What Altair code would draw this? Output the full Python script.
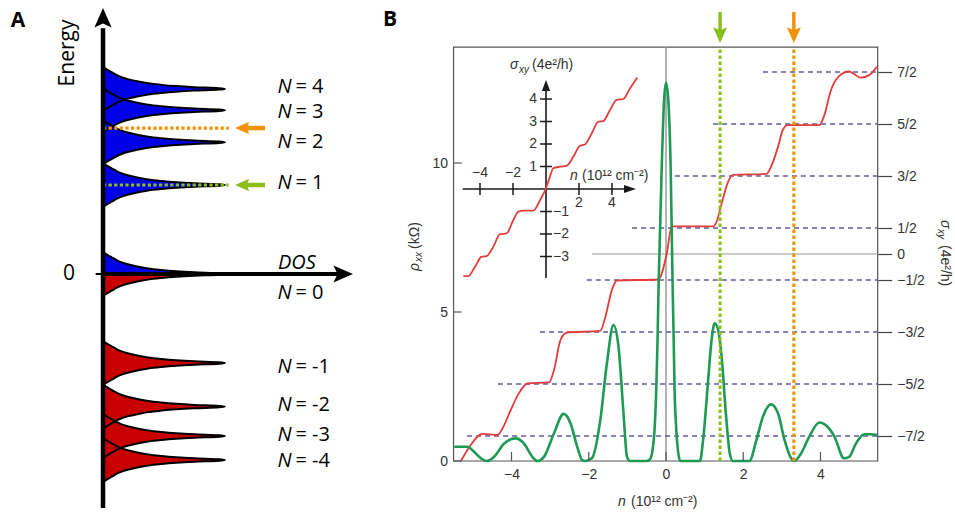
import altair as alt
import pandas as pd

# ---------------- Panel A: schematic Landau-level DOS ----------------
level_N = [4, 3, 2, 1, 0, -1, -2, -3, -4]
level_E = [2.08, 1.84, 1.48, 1.00, 0.00, -1.00, -1.49, -1.82, -2.09]
label_E = [2.10, 1.82, 1.48, 1.02, -0.21, -1.045, -1.47, -1.81, -2.10]
profile_dE = [0, 0.008, 0.019, 0.031, 0.045, 0.062, 0.082, 0.107, 0.131, 0.157, 0.188, 0.208, 0.225, 0.238, 0.247]
profile_dos = [1.0, 0.95, 0.75, 0.60, 0.48, 0.37, 0.29, 0.21, 0.153, 0.11, 0.071, 0.045, 0.025, 0.01, 0.0]
axis_return_D = [0.6, 0.3, 0.0]
fermi_E_orange = 1.64
fermi_E_green = 1.00
fermi_D_end = 1.03
energy_axis_E = [-2.63, 2.76]
energy_head_E = 2.865
dos_axis_D = [0.0, 1.94]
dos_head_D = 1.959
label_D = 1.43
arrowA_shaft_D = [1.164, 1.328]
arrowA_head_D = 1.148

# ---------------- Panel B: rho_xx and sigma_xy vs n ----------------
green_n = [-5.48, -5.14, -4.97, -4.79, -4.64, -4.45, -4.19, -3.89, -3.68, -3.46, -3.33, -3.16, -2.9, -2.65,
           -2.47, -2.3, -2.17, -2.09, -1.92, -1.7, -1.53, -1.36, -1.23, -1.1, -1.01, -0.93, -0.5, -0.42,
           -0.35, -0.29, -0.25, -0.22, -0.19, -0.11, -0.05, 0.0, 0.06, 0.12, 0.17, 0.2, 0.22, 0.26, 0.31,
           0.37, 0.88, 0.96, 1.09, 1.18, 1.26, 1.35, 1.44, 1.55, 1.65, 1.73, 2.16, 2.34, 2.51, 2.72, 2.9,
           3.07, 3.24, 3.32, 3.5, 3.71, 3.97, 4.18, 4.36, 4.61, 4.74, 4.92, 5.13, 5.3, 5.46]
green_rho = [0.48, 0.48, 0.31, 0.09, 0.0, 0.14, 0.59, 0.76, 0.59, 0.14, 0.0, 0.14, 0.93, 1.58,
             1.26, 0.48, 0.03, 0.0, 0.09, 1.38, 3.28, 4.56, 3.84, 1.6, 0.14, 0.0, 0.0, 0.05,
             0.35, 1.2, 2.5, 4.0, 6.0, 9.88, 12.1, 12.7, 12.1, 9.88, 6.0, 4.0, 2.5, 1.2, 0.35,
             0.0, 0.0, 0.7, 2.7, 4.06, 4.62, 4.4, 3.5, 1.6, 0.26, 0.0, 0.0, 0.7, 1.49, 1.9, 1.6,
             0.7, 0.09, 0.0, 0.26, 0.82, 1.29, 1.15, 0.82, 0.09, 0.14, 0.59, 0.9, 0.9, 0.87]
red_n = [-5.31, -5.09, -4.75, -4.36, -4.23, -4.02, -3.81, -3.59, -3.03, -2.9, -2.73, -2.56, -1.7, -1.57,
         -1.4, -1.27, -0.2, 0.02, 0.15, 1.22, 1.31, 1.44, 1.61, 1.74, 2.6, 2.72, 2.9, 3.02, 3.15, 3.97,
         4.1, 4.27, 4.48, 4.74, 4.87, 5.04, 5.26, 5.46]
red_sigma = [-3.98, -3.71, -3.46, -3.48, -3.35, -3.0, -2.68, -2.49, -2.47, -2.23, -1.65, -1.51, -1.48, -1.21,
             -0.69, -0.51, -0.49, 0.01, 0.53, 0.53, 0.62, 0.97, 1.39, 1.52, 1.54, 1.68, 2.06, 2.38, 2.48, 2.48,
             2.67, 3.15, 3.42, 3.51, 3.46, 3.39, 3.44, 3.6]
plateau_sigma = [3.5, 2.5, 1.5, 0.5, -0.5, -1.5, -2.5, -3.5]
plateau_start = [2.51, 1.22, 0.23, -0.88, -2.05, -3.26, -4.35, -5.15]
n_min, n_max = -5.5, 5.48
rho_top = 13.89
zero_line_start = -1.92
x_ticks = [-4, -2, 0, 2, 4]
rho_ticks = [0, 5, 10]
sigma_ticks = [-3.5, -2.5, -1.5, -0.5, 0, 0.5, 1.5, 2.5, 3.5]
fermi_n_green = 1.40
fermi_n_orange = 3.31
arrowB_shaft_rho = [14.4, 15.07]
arrowB_head_rho = 14.33

# ---------------- Inset: sigma_xy staircase ----------------
inset_n = [-5.01, -4.71, -4.30, -3.90, -3.60, -3.19, -2.79, -2.38, -1.98, -1.68, -1.37, -0.77, -0.36, -0.02,
           0.24, 0.44, 0.85, 1.25, 1.66, 2.06, 2.36, 2.77, 3.17, 3.47, 3.88, 4.28, 4.69, 5.09, 5.53]
inset_sigma = [-3.87, -3.87, -3.45, -3.01, -2.98, -2.56, -2.01, -1.97, -1.38, -1.01, -0.96, -0.96, -0.49, 0.0,
               0.55, 0.92, 0.99, 1.03, 1.44, 1.92, 1.98, 2.47, 2.99, 3.02, 3.51, 3.96, 4.0, 4.47, 4.96]
inset_xticks = [-4, -2, 2, 4]
inset_yticks = [-3, -2, -1, 1, 2, 3, 4]
inset_x_axis = [-5.05, 5.1]
inset_x_head = 5.09
inset_y_axis = [-3.96, 4.6]
inset_y_head = 4.6

# ---------------- styles ----------------
BLUE = "#0000e6"
RED_FILL = "#c80000"
ORANGE = "#f39200"
LIME = "#8cbe1e"
RED_LINE = "#e23c3c"
GREEN_LINE = "#1f9a55"
DASH = "#5c5c9e"
GREY = "#9a9a9a"
TXT = "#333333"
SANS = "Liberation Sans"
OPEN = "Open Sans"


def sc(domain, rng):
    return alt.Scale(domain=domain, range=rng, nice=False, zero=False)


XA = sc([0, 1], [103, 225])
YA = sc([0, 1], [274, 185])
XB = sc([-4, 4], [511.5, 820.5])
YR = sc([0, 10], [461, 163])
YS = sc([-3.5, 3.5], [436, 72])
XI = sc([-4, 4], [480, 612])
YI = sc([-4, 4], [279, 99])


def qx(f, s, axis=None, **kw):
    return alt.X(f, type="quantitative", scale=s, axis=axis, **kw)


def qy(f, s, axis=None, **kw):
    return alt.Y(f, type="quantitative", scale=s, axis=axis, **kw)


def note(text, x, y, size=14, font=SANS, style="normal", weight="normal", angle=0,
         align="left", color=TXT, baseline="middle"):
    return alt.Chart(pd.DataFrame({"t": [text]})).mark_text(
        font=font, fontSize=size, fontStyle=style, fontWeight=weight, angle=angle,
        align=align, baseline=baseline, color=color
    ).encode(x=alt.value(x), y=alt.value(y), text="t:N")


def head(df, xf, yf, xs, ys, shape, size, color="black"):
    return alt.Chart(df).mark_point(shape=shape, size=size, filled=True, color=color,
                                    opacity=1, strokeWidth=0).encode(x=qx(xf, xs), y=qy(yf, ys))


layers = []

# ===== Panel A =====
fill_rows, edge_rows = [], []
for N, c in zip(level_N, level_E):
    upper = [(c + dE, d) for dE, d in zip(profile_dE[::-1], profile_dos[::-1])]
    lower = [(c - dE, d) for dE, d in zip(profile_dE[1:], profile_dos[1:])]
    full = upper + lower
    for k, (E, d) in enumerate(full):
        edge_rows.append({"N": N, "k": k, "E": E, "D": d})
    if N != 0:
        band = "pos" if N > 0 else "neg"
        for k, (E, d) in enumerate(full):
            fill_rows.append({"g": str(N), "k": k, "E": E, "D": d, "band": band})
    else:
        up_pts = upper + [(c, d) for d in axis_return_D]
        lo_pts = [(c - dE, d) for dE, d in zip(profile_dE[::-1], profile_dos[::-1])] + \
                 [(c, d) for d in axis_return_D]
        for k, (E, d) in enumerate(up_pts):
            fill_rows.append({"g": "0u", "k": k, "E": E, "D": d, "band": "pos"})
        for k, (E, d) in enumerate(lo_pts):
            fill_rows.append({"g": "0d", "k": k, "E": E, "D": d, "band": "neg"})
fill_df = pd.DataFrame(fill_rows)
edge_df = pd.DataFrame(edge_rows)

layers.append(alt.Chart(fill_df).mark_line(interpolate="catmull-rom", filled=True, strokeWidth=0).encode(
    y=qy("E", YA), x=qx("D", XA),
    color=alt.Color("band:N", scale=alt.Scale(domain=["pos", "neg"], range=[BLUE, RED_FILL]), legend=None),
    detail="g:N", order=alt.Order("k:Q")))
layers.append(alt.Chart(edge_df).mark_line(interpolate="catmull-rom", color="black", strokeWidth=2).encode(
    y=qy("E", YA), x=qx("D", XA), detail="N:N", order=alt.Order("k:Q")))

for E0, col in ((fermi_E_orange, ORANGE), (fermi_E_green, LIME)):
    fdf = pd.DataFrame({"E": [E0], "D1": [0.0], "D2": [fermi_D_end]})
    layers.append(alt.Chart(fdf).mark_rule(color=col, strokeWidth=3.2, strokeDash=[3.2, 2.4]).encode(
        y=qy("E", YA), x=qx("D1", XA), x2="D2"))
    adf = pd.DataFrame({"E": [E0], "D1": [arrowA_shaft_D[0]], "D2": [arrowA_shaft_D[1]], "H": [arrowA_head_D]})
    layers.append(alt.Chart(adf).mark_rule(color=col, strokeWidth=4.5).encode(
        y=qy("E", YA), x=qx("D1", XA), x2="D2"))
    layers.append(head(adf, "H", "E", XA, YA, "M-1,0L0.78,-0.78L0.45,0L0.78,0.78Z", 256, col))

vax = pd.DataFrame({"D": [0.0], "E1": [energy_axis_E[0]], "E2": [energy_axis_E[1]], "H": [energy_head_E]})
layers.append(alt.Chart(vax).mark_rule(color="black", strokeWidth=4.5).encode(
    x=qx("D", XA), y=qy("E1", YA), y2="E2"))
layers.append(head(vax, "D", "H", XA, YA, "M0,-1L0.78,0.78L0,0.4L-0.78,0.78Z", 484))
hax = pd.DataFrame({"E": [0.0], "D1": [dos_axis_D[0]], "D2": [dos_axis_D[1]], "H": [dos_head_D]})
layers.append(alt.Chart(hax).mark_rule(color="black", strokeWidth=4).encode(
    y=qy("E", YA), x=qx("D1", XA), x2="D2"))
layers.append(head(hax, "H", "E", XA, YA, "M1,0L-0.78,0.78L-0.4,0L-0.78,-0.78Z", 484))
tdf = pd.DataFrame({"E": [0.0], "D1": [-0.06], "D2": [0.0]})
layers.append(alt.Chart(tdf).mark_rule(color="black", strokeWidth=2).encode(
    y=qy("E", YA), x=qx("D1", XA), x2="D2"))

lab_df = pd.DataFrame({"E": label_E, "D": [label_D] * len(label_E), "a": ["N"] * len(label_E),
                       "b": [f"= {n}" for n in level_N]})
layers.append(alt.Chart(lab_df).mark_text(font=OPEN, fontSize=20, fontStyle="italic", align="left",
                                          baseline="middle", color="black").encode(
    x=qx("D", XA), y=qy("E", YA), text="a:N"))
layers.append(alt.Chart(lab_df).mark_text(font=OPEN, fontSize=20, align="left", baseline="middle",
                                          color="black", dx=18).encode(
    x=qx("D", XA), y=qy("E", YA), text="b:N"))
layers.append(note("DOS", 278, 263, size=20, font=OPEN, style="italic", color="black"))
layers.append(note("0", 69, 274, size=21, font=OPEN, align="center", color="black"))
layers.append(note("Energy", 68, 53, size=21, font=OPEN, angle=270, align="center", color="black"))
layers.append(note("A", 18, 21, size=21, font=OPEN, weight="bold", align="center", color="black"))

# ===== Panel B =====
bottom_axis = alt.Axis(orient="bottom", offset=-52, values=x_ticks, ticks=False, tickSize=0, domain=False,
                       grid=False, labelPadding=6, labelFontSize=14, labelFont=SANS, labelColor=TXT,
                       labelFlush=False, labelOverlap=False, title="")
left_axis = alt.Axis(orient="left", offset=-453.5, values=rho_ticks, ticks=False, tickSize=0, domain=False,
                     grid=False, labelPadding=6, labelFontSize=14, labelFont=SANS, labelColor=TXT,
                     labelFlush=False, labelOverlap=False, title="")
right_axis = alt.Axis(orient="right", offset=-77.3, values=sigma_ticks, tickSize=14, tickColor="#444",
                      tickWidth=1.2, domain=False, grid=False, labelPadding=5, labelFontSize=14,
                      labelFont=SANS, labelColor=TXT, labelFlush=False, labelOverlap=False, title="",
                      labelExpr="datum.value == 0 ? '0' : (datum.value < 0 ? '\u2212' : '') + "
                                "format(abs(datum.value) * 2, 'd') + '/2'")

frame = pd.DataFrame({"n1": [n_min], "n2": [n_max], "r1": [0.0], "r2": [rho_top]})
layers.append(alt.Chart(frame).mark_rect(fillOpacity=0, stroke="#555", strokeWidth=1.2).encode(
    x=qx("n1", XB, axis=bottom_axis), x2="n2", y=qy("r1", YR, axis=left_axis), y2="r2"))

zv = pd.DataFrame({"n": [0.0], "r1": [0.0], "r2": [rho_top]})
layers.append(alt.Chart(zv).mark_rule(color=GREY, strokeWidth=1.5).encode(
    x=qx("n", XB), y=qy("r1", YR), y2="r2"))
zh = pd.DataFrame({"s": [0.0], "n1": [zero_line_start], "n2": [n_max]})
layers.append(alt.Chart(zh).mark_rule(color=GREY, strokeWidth=1.2).encode(
    y=qy("s", YS), x=qx("n1", XB), x2="n2"))

dash_df = pd.DataFrame({"s": plateau_sigma, "n1": plateau_start, "n2": [n_max] * len(plateau_sigma)})
layers.append(alt.Chart(dash_df).mark_rule(color=DASH, strokeWidth=1.3, strokeDash=[5, 4]).encode(
    y=qy("s", YS, axis=right_axis), x=qx("n1", XB), x2="n2"))

red_df = pd.DataFrame({"n": red_n, "s": red_sigma})
layers.append(alt.Chart(red_df).mark_line(color=RED_LINE, strokeWidth=1.8, interpolate="monotone").encode(
    x=qx("n", XB), y=qy("s", YS)))
green_df = pd.DataFrame({"n": green_n, "r": green_rho})
layers.append(alt.Chart(green_df).mark_line(color=GREEN_LINE, strokeWidth=2.6, interpolate="monotone").encode(
    x=qx("n", XB), y=qy("r", YR)))

bt = pd.DataFrame({"n": x_ticks, "r1": [0.0] * len(x_ticks), "r2": [0.3] * len(x_ticks)})
layers.append(alt.Chart(bt).mark_rule(color="#555", strokeWidth=1.2).encode(
    x=qx("n", XB), y=qy("r1", YR), y2="r2"))
lt = pd.DataFrame({"r": rho_ticks, "n1": [n_min] * len(rho_ticks), "n2": [n_min + 0.21] * len(rho_ticks)})
layers.append(alt.Chart(lt).mark_rule(color="#555", strokeWidth=1.2).encode(
    y=qy("r", YR), x=qx("n1", XB), x2="n2"))

for n0, col in ((fermi_n_green, LIME), (fermi_n_orange, ORANGE)):
    vdf = pd.DataFrame({"n": [n0], "r1": [0.0], "r2": [rho_top],
                        "a1": [arrowB_shaft_rho[0]], "a2": [arrowB_shaft_rho[1]], "h": [arrowB_head_rho]})
    layers.append(alt.Chart(vdf).mark_rule(color=col, strokeWidth=3, strokeDash=[3.5, 2.5]).encode(
        x=qx("n", XB), y=qy("r1", YR), y2="r2"))
    layers.append(alt.Chart(vdf).mark_rule(color=col, strokeWidth=3.5).encode(
        x=qx("n", XB), y=qy("a1", YR), y2="a2"))
    layers.append(head(vdf, "n", "h", XB, YR, "M0,1L-0.78,-0.75L0,-0.4L0.78,-0.75Z", 324, col))

# ===== Inset =====
INK = "#1a1a1a"
ix = pd.DataFrame({"s": [0.0], "n1": [inset_x_axis[0]], "n2": [inset_x_axis[1]], "h": [inset_x_head]})
layers.append(alt.Chart(ix).mark_rule(color=INK, strokeWidth=1.6).encode(
    y=qy("s", YI), x=qx("n1", XI), x2="n2"))
layers.append(head(ix, "h", "s", XI, YI, "M1,0L-1,0.67L-1,-0.67Z", 144, INK))
iy = pd.DataFrame({"n": [0.0], "s1": [inset_y_axis[0]], "s2": [inset_y_axis[1]], "h": [inset_y_head]})
layers.append(alt.Chart(iy).mark_rule(color=INK, strokeWidth=1.6).encode(
    x=qx("n", XI), y=qy("s1", YI), y2="s2"))
layers.append(head(iy, "n", "h", XI, YI, "M0,-1L0.75,1L-0.75,1Z", 121, INK))

ixt = pd.DataFrame({"n": inset_xticks, "s1": [-0.27] * 4, "s2": [0.27] * 4, "z": [0.0] * 4,
                    "lab": [("\u2212" if v < 0 else "") + str(abs(v)) for v in inset_xticks],
                    "neg": [v < 0 for v in inset_xticks]})
layers.append(alt.Chart(ixt).mark_rule(color=INK, strokeWidth=1.5).encode(
    x=qx("n", XI), y=qy("s1", YI), y2="s2"))
iyt = pd.DataFrame({"s": inset_yticks, "n1": [-0.36] * 7, "n2": [0.36] * 7, "z": [0.0] * 7,
                    "lab": [("\u2212" if v < 0 else "") + str(abs(v)) for v in inset_yticks],
                    "neg": [v < 0 for v in inset_yticks]})
layers.append(alt.Chart(iyt).mark_rule(color=INK, strokeWidth=1.5).encode(
    y=qy("s", YI), x=qx("n1", XI), x2="n2"))

layers.append(alt.Chart(ixt[ixt["neg"]]).mark_text(font=SANS, fontSize=14, color=TXT, align="center",
                                                   baseline="middle", dy=-16.5).encode(
    x=qx("n", XI), y=qy("z", YI), text="lab:N"))
layers.append(alt.Chart(ixt[~ixt["neg"]]).mark_text(font=SANS, fontSize=14, color=TXT, align="center",
                                                    baseline="middle", dy=13.5).encode(
    x=qx("n", XI), y=qy("z", YI), text="lab:N"))
layers.append(alt.Chart(iyt[~iyt["neg"]]).mark_text(font=SANS, fontSize=14, color=TXT, align="right",
                                                    baseline="middle", dx=-9).encode(
    x=qx("z", XI), y=qy("s", YI), text="lab:N"))
layers.append(alt.Chart(iyt[iyt["neg"]]).mark_text(font=SANS, fontSize=14, color=TXT, align="left",
                                                   baseline="middle", dx=7).encode(
    x=qx("z", XI), y=qy("s", YI), text="lab:N"))

inset_df = pd.DataFrame({"n": inset_n, "s": inset_sigma})
layers.append(alt.Chart(inset_df).mark_line(color=RED_LINE, strokeWidth=1.8, interpolate="monotone").encode(
    x=qx("n", XI), y=qy("s", YI)))

# ===== Panel B text =====
layers.append(note("B", 390, 20, size=21, font=OPEN, weight="bold", align="center", color="black"))
layers.append(note("n", 618, 502, style="italic"))
layers.append(note("(10\u00b9\u00b2 cm\u207b\u00b2)", 631, 502))
layers.append(note("n", 570, 176, style="italic"))
layers.append(note("(10\u00b9\u00b2 cm\u207b\u00b2)", 582, 176))
layers.append(note("\u03c3", 510, 65, style="italic"))
layers.append(note("xy", 519, 70, size=10, style="italic"))
layers.append(note("(4e\u00b2/h)", 532, 65))
layers.append(note("\u03c1", 415, 271, angle=270, style="italic"))
layers.append(note("xx", 419, 262, size=10, angle=270, style="italic"))
layers.append(note("(k\u03a9)", 415, 249, angle=270))
layers.append(note("\u03c3", 945, 220, angle=90, style="italic"))
layers.append(note("xy", 941, 229, size=10, angle=90, style="italic"))
layers.append(note("(4e\u00b2/h)", 945, 245, angle=90))

chart = alt.layer(*layers).resolve_scale(
    x="independent", y="independent", color="independent"
).properties(
    width=955, height=513, autosize=alt.AutoSizeParams(type="none"), padding=0
).configure_view(strokeOpacity=0)

chart.save("out.html", embed_options={"renderer": "svg", "actions": False})
